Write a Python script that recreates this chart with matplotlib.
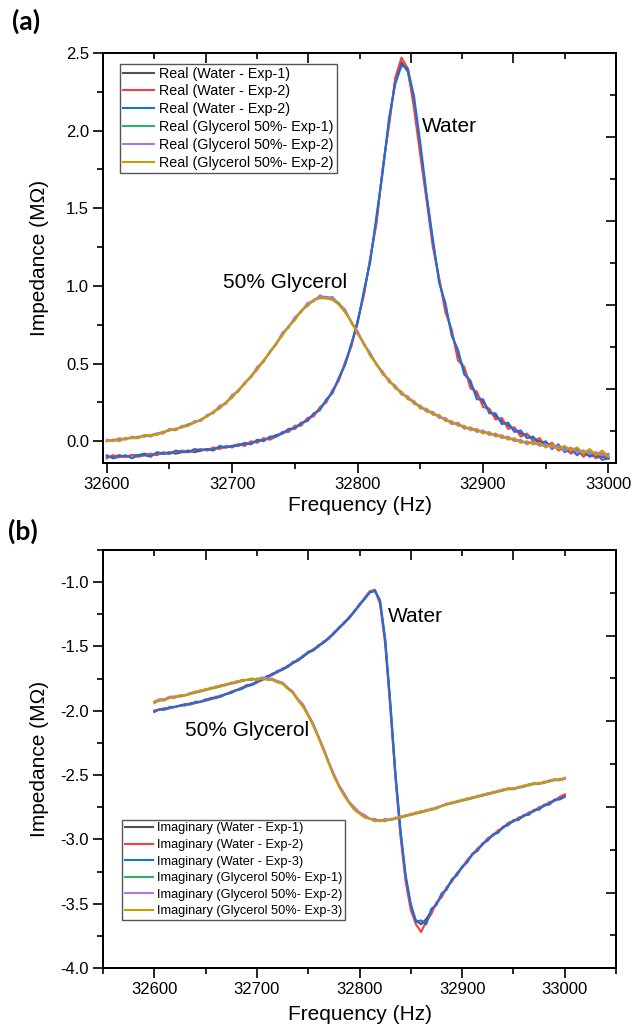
import numpy as np
import matplotlib
matplotlib.use("Agg")
import matplotlib.pyplot as plt
from matplotlib.ticker import MultipleLocator, FormatStrFormatter, NullFormatter

plt.rcParams['font.family'] = ['Liberation Sans', 'DejaVu Sans']
plt.rcParams['axes.unicode_minus'] = False

# ---------------- data ----------------
freq = np.arange(32600, 33001, 5)  # Hz, 81 samples

real_water_1 = [
    -0.10, -0.10, -0.09, -0.10, -0.09, -0.09, -0.08, -0.09, -0.08, -0.08,
    -0.07, -0.08, -0.07, -0.06, -0.07, -0.06, -0.05, -0.05, -0.04, -0.04,
    -0.03, -0.02, -0.02, -0.01, 0.00, 0.01, 0.02, 0.04, 0.05, 0.07,
    0.09, 0.11, 0.14, 0.17, 0.21, 0.26, 0.32, 0.40, 0.50, 0.62,
    0.77, 0.95, 1.17, 1.42, 1.75, 2.05, 2.32, 2.44, 2.38, 2.18,
    1.88, 1.57, 1.28, 1.04, 0.86, 0.70, 0.56, 0.46, 0.37, 0.30,
    0.25, 0.20, 0.16, 0.13, 0.10, 0.08, 0.05, 0.04, 0.02, 0.00,
    -0.01, -0.03, -0.04, -0.05, -0.06, -0.07, -0.08, -0.09, -0.10, -0.10,
    -0.11]
real_water_2 = [
    -0.11, -0.09, -0.10, -0.10, -0.09, -0.10, -0.09, -0.08, -0.09, -0.07,
    -0.08, -0.07, -0.06, -0.07, -0.06, -0.05, -0.06, -0.04, -0.05, -0.03,
    -0.04, -0.02, -0.03, 0.00, -0.01, 0.02, 0.01, 0.03, 0.06, 0.06,
    0.10, 0.10, 0.15, 0.16, 0.22, 0.25, 0.33, 0.39, 0.51, 0.61,
    0.78, 0.94, 1.18, 1.40, 1.76, 2.03, 2.34, 2.47, 2.40, 2.14,
    1.84, 1.55, 1.25, 1.05, 0.83, 0.72, 0.52, 0.48, 0.34, 0.32,
    0.22, 0.21, 0.14, 0.15, 0.08, 0.09, 0.03, 0.05, 0.00, 0.02,
    -0.03, -0.01, -0.06, -0.04, -0.08, -0.05, -0.10, -0.07, -0.11, -0.09,
    -0.11]
real_water_3 = [
    -0.09, -0.11, -0.10, -0.09, -0.11, -0.09, -0.09, -0.10, -0.07, -0.08,
    -0.08, -0.06, -0.07, -0.07, -0.05, -0.06, -0.05, -0.06, -0.03, -0.04,
    -0.03, -0.03, -0.01, -0.02, 0.01, 0.00, 0.03, 0.03, 0.05, 0.08,
    0.08, 0.12, 0.13, 0.18, 0.20, 0.27, 0.31, 0.41, 0.49, 0.63,
    0.76, 0.97, 1.15, 1.45, 1.73, 2.08, 2.30, 2.42, 2.40, 2.22,
    1.92, 1.59, 1.30, 1.02, 0.89, 0.68, 0.59, 0.43, 0.39, 0.27,
    0.27, 0.18, 0.18, 0.11, 0.12, 0.06, 0.07, 0.02, 0.03, -0.02,
    0.00, -0.05, -0.02, -0.07, -0.05, -0.09, -0.06, -0.10, -0.08, -0.12,
    -0.11]
real_gly_1 = [
    0.00, 0.01, 0.01, 0.02, 0.02, 0.03, 0.03, 0.04, 0.05, 0.06,
    0.07, 0.08, 0.09, 0.11, 0.12, 0.14, 0.16, 0.19, 0.22, 0.25,
    0.29, 0.33, 0.37, 0.42, 0.47, 0.52, 0.57, 0.63, 0.69, 0.74,
    0.79, 0.84, 0.88, 0.91, 0.93, 0.93, 0.92, 0.89, 0.84, 0.77,
    0.70, 0.63, 0.56, 0.50, 0.44, 0.39, 0.35, 0.31, 0.28, 0.25,
    0.22, 0.20, 0.18, 0.16, 0.14, 0.12, 0.11, 0.09, 0.08, 0.07,
    0.06, 0.05, 0.04, 0.03, 0.02, 0.01, 0.00, -0.01, -0.01, -0.02,
    -0.03, -0.03, -0.04, -0.05, -0.05, -0.06, -0.07, -0.07, -0.08, -0.08,
    -0.09]
real_gly_2 = [
    0.01, 0.00, 0.02, 0.01, 0.03, 0.02, 0.04, 0.03, 0.05, 0.05,
    0.08, 0.07, 0.10, 0.10, 0.13, 0.13, 0.17, 0.18, 0.23, 0.24,
    0.30, 0.32, 0.38, 0.41, 0.48, 0.51, 0.58, 0.62, 0.70, 0.73,
    0.80, 0.83, 0.89, 0.90, 0.94, 0.92, 0.93, 0.88, 0.85, 0.76,
    0.71, 0.62, 0.57, 0.49, 0.45, 0.38, 0.36, 0.30, 0.29, 0.24,
    0.23, 0.19, 0.19, 0.15, 0.15, 0.11, 0.12, 0.08, 0.09, 0.06,
    0.07, 0.04, 0.05, 0.02, 0.03, 0.00, 0.01, -0.02, 0.00, -0.03,
    -0.02, -0.04, -0.03, -0.06, -0.04, -0.07, -0.06, -0.08, -0.07, -0.09,
    -0.08]
real_gly_3 = [
    0.00, 0.01, 0.00, 0.02, 0.02, 0.02, 0.04, 0.04, 0.04, 0.06,
    0.07, 0.08, 0.09, 0.10, 0.12, 0.14, 0.16, 0.19, 0.21, 0.25,
    0.28, 0.33, 0.37, 0.42, 0.46, 0.52, 0.57, 0.63, 0.68, 0.74,
    0.78, 0.84, 0.87, 0.91, 0.92, 0.92, 0.91, 0.88, 0.83, 0.77,
    0.69, 0.63, 0.55, 0.50, 0.43, 0.40, 0.34, 0.32, 0.27, 0.26,
    0.21, 0.21, 0.17, 0.17, 0.13, 0.13, 0.10, 0.10, 0.07, 0.08,
    0.05, 0.06, 0.03, 0.04, 0.01, 0.02, -0.01, 0.00, -0.02, -0.01,
    -0.04, -0.02, -0.05, -0.03, -0.06, -0.04, -0.08, -0.05, -0.09, -0.06,
    -0.10]

imag_water_1 = [
    -2.00, -1.99, -1.99, -1.98, -1.97, -1.96, -1.95, -1.95, -1.94, -1.93,
    -1.92, -1.91, -1.90, -1.89, -1.87, -1.86, -1.84, -1.83, -1.81, -1.80,
    -1.78, -1.76, -1.74, -1.72, -1.70, -1.68, -1.66, -1.63, -1.61, -1.58,
    -1.55, -1.53, -1.50, -1.47, -1.44, -1.40, -1.36, -1.32, -1.28, -1.23,
    -1.18, -1.13, -1.08, -1.06, -1.15, -1.45, -1.95, -2.50, -2.95, -3.30,
    -3.52, -3.63, -3.66, -3.62, -3.56, -3.50, -3.44, -3.38, -3.32, -3.27,
    -3.22, -3.17, -3.12, -3.08, -3.04, -3.00, -2.97, -2.94, -2.91, -2.88,
    -2.86, -2.84, -2.82, -2.80, -2.78, -2.76, -2.74, -2.72, -2.70, -2.68,
    -2.66]
imag_water_2 = [
    -2.00, -1.99, -1.98, -1.98, -1.97, -1.96, -1.96, -1.94, -1.94, -1.93,
    -1.91, -1.91, -1.89, -1.89, -1.87, -1.85, -1.84, -1.82, -1.81, -1.79,
    -1.78, -1.75, -1.74, -1.71, -1.70, -1.67, -1.66, -1.62, -1.61, -1.57,
    -1.55, -1.52, -1.50, -1.46, -1.44, -1.39, -1.36, -1.31, -1.28, -1.22,
    -1.18, -1.12, -1.07, -1.06, -1.17, -1.48, -1.98, -2.52, -2.98, -3.33,
    -3.55, -3.66, -3.72, -3.64, -3.58, -3.49, -3.45, -3.37, -3.33, -3.26,
    -3.22, -3.16, -3.12, -3.07, -3.04, -2.99, -2.97, -2.93, -2.91, -2.87,
    -2.86, -2.83, -2.82, -2.79, -2.78, -2.75, -2.74, -2.71, -2.70, -2.67,
    -2.65]
imag_water_3 = [
    -2.01, -1.99, -1.99, -1.97, -1.97, -1.96, -1.95, -1.95, -1.93, -1.93,
    -1.92, -1.90, -1.90, -1.88, -1.87, -1.86, -1.84, -1.83, -1.80, -1.80,
    -1.77, -1.76, -1.73, -1.72, -1.69, -1.68, -1.65, -1.63, -1.60, -1.58,
    -1.54, -1.53, -1.49, -1.47, -1.43, -1.40, -1.35, -1.32, -1.27, -1.23,
    -1.17, -1.13, -1.08, -1.07, -1.14, -1.44, -1.93, -2.48, -2.93, -3.28,
    -3.50, -3.64, -3.63, -3.66, -3.54, -3.51, -3.42, -3.39, -3.31, -3.28,
    -3.21, -3.18, -3.11, -3.09, -3.03, -3.01, -2.96, -2.95, -2.90, -2.89,
    -2.85, -2.85, -2.81, -2.81, -2.77, -2.77, -2.73, -2.73, -2.69, -2.69,
    -2.67]
imag_gly_1 = [
    -1.93, -1.92, -1.91, -1.90, -1.89, -1.89, -1.88, -1.87, -1.86, -1.85,
    -1.84, -1.83, -1.82, -1.81, -1.80, -1.79, -1.78, -1.77, -1.76, -1.76,
    -1.75, -1.75, -1.75, -1.76, -1.77, -1.79, -1.82, -1.86, -1.91, -1.96,
    -2.03, -2.11, -2.20, -2.30, -2.40, -2.50, -2.58, -2.65, -2.71, -2.76,
    -2.79, -2.82, -2.84, -2.85, -2.85, -2.85, -2.85, -2.84, -2.83, -2.82,
    -2.81, -2.80, -2.79, -2.78, -2.77, -2.76, -2.74, -2.73, -2.72, -2.71,
    -2.70, -2.69, -2.68, -2.67, -2.66, -2.65, -2.64, -2.63, -2.62, -2.61,
    -2.61, -2.60, -2.59, -2.58, -2.57, -2.57, -2.56, -2.55, -2.54, -2.54,
    -2.53]
imag_gly_2 = [
    -1.93, -1.91, -1.91, -1.89, -1.89, -1.88, -1.88, -1.86, -1.86, -1.84,
    -1.84, -1.82, -1.82, -1.80, -1.80, -1.78, -1.78, -1.76, -1.76, -1.75,
    -1.76, -1.74, -1.75, -1.75, -1.77, -1.78, -1.82, -1.85, -1.91, -1.95,
    -2.03, -2.10, -2.20, -2.29, -2.40, -2.49, -2.58, -2.64, -2.71, -2.75,
    -2.79, -2.81, -2.84, -2.84, -2.86, -2.84, -2.85, -2.83, -2.83, -2.81,
    -2.81, -2.79, -2.79, -2.77, -2.77, -2.75, -2.74, -2.72, -2.72, -2.70,
    -2.70, -2.68, -2.68, -2.66, -2.66, -2.64, -2.64, -2.62, -2.62, -2.60,
    -2.61, -2.59, -2.59, -2.57, -2.57, -2.56, -2.56, -2.54, -2.54, -2.53,
    -2.53]
imag_gly_3 = [
    -1.94, -1.92, -1.92, -1.90, -1.90, -1.88, -1.88, -1.87, -1.85, -1.85,
    -1.83, -1.83, -1.81, -1.81, -1.79, -1.79, -1.77, -1.77, -1.76, -1.75,
    -1.76, -1.75, -1.76, -1.76, -1.78, -1.79, -1.83, -1.86, -1.92, -1.97,
    -2.04, -2.12, -2.21, -2.31, -2.41, -2.51, -2.59, -2.66, -2.72, -2.77,
    -2.80, -2.83, -2.84, -2.86, -2.85, -2.86, -2.84, -2.84, -2.82, -2.82,
    -2.80, -2.80, -2.78, -2.78, -2.76, -2.76, -2.74, -2.73, -2.71, -2.71,
    -2.69, -2.69, -2.67, -2.67, -2.65, -2.65, -2.63, -2.63, -2.61, -2.61,
    -2.60, -2.60, -2.58, -2.58, -2.56, -2.57, -2.55, -2.55, -2.53, -2.54,
    -2.52]

real_labels = ["Real (Water - Exp-1)", "Real (Water - Exp-2)", "Real (Water - Exp-2)",
               "Real (Glycerol 50%- Exp-1)", "Real (Glycerol 50%- Exp-2)",
               "Real (Glycerol 50%- Exp-2)"]
imag_labels = ["Imaginary (Water - Exp-1)", "Imaginary (Water - Exp-2)",
               "Imaginary (Water - Exp-3)", "Imaginary (Glycerol 50%- Exp-1)",
               "Imaginary (Glycerol 50%- Exp-2)", "Imaginary (Glycerol 50%- Exp-3)"]
colors = ["#515151", "#F14040", "#1A6FDF", "#37AD6B", "#B177DE", "#CC9900"]

real_series = [real_water_1, real_water_2, real_water_3, real_gly_1, real_gly_2, real_gly_3]
imag_series = [imag_water_1, imag_water_2, imag_water_3, imag_gly_1, imag_gly_2, imag_gly_3]

# ---------------- figure ----------------
W, H = 635, 1032
fig = plt.figure(figsize=(W / 100, H / 100), dpi=100)

def px_axes(l, t, r, b):
    return fig.add_axes([l / W, 1 - b / H, (r - l) / W, (b - t) / H])

ax1 = px_axes(103, 53, 616, 463)
ax2 = px_axes(103, 550, 616, 968)

def style(ax, xlim, ylim, legend_kw, labels, series, lfs, lsp, xlpad):
    for s, c, lab in zip(series, colors, labels):
        ax.plot(freq, s, color=c, lw=1.5, label=lab)
    ax.set_xlim(*xlim)
    ax.set_ylim(*ylim)
    ax.xaxis.set_major_locator(MultipleLocator(100))
    ax.xaxis.set_minor_locator(MultipleLocator(50))
    ax.yaxis.set_major_locator(MultipleLocator(0.5))
    ax.yaxis.set_minor_locator(MultipleLocator(0.25))
    ax.yaxis.set_major_formatter(FormatStrFormatter('%.1f'))
    ax.tick_params(which='major', direction='out', length=7, width=1.2,
                   labelsize=12, pad=3, top=False, right=False)
    ax.tick_params(which='minor', direction='out', length=4, width=1.2,
                   top=False, right=False)
    for sp in ax.spines.values():
        sp.set_linewidth(1.3)
    ax.set_xlabel("Frequency (Hz)", fontsize=15, labelpad=xlpad)
    ax.set_ylabel("Impedance (MΩ)", fontsize=15)
    ax.yaxis.set_label_coords(-0.105, 0.5)
    leg = ax.legend(fontsize=lfs, frameon=True, fancybox=False, framealpha=1,
                    edgecolor='#555555', handlelength=2.2, handletextpad=0.35,
                    borderpad=0.2, labelspacing=lsp, borderaxespad=0,
                    **legend_kw)
    leg.get_frame().set_linewidth(1.0)
    # top decorative ticks
    axt = ax.twiny()
    axt.set_xlim(0, 10)
    axt.xaxis.set_major_locator(MultipleLocator(2))
    axt.xaxis.set_minor_locator(MultipleLocator(1))
    axt.xaxis.set_major_formatter(NullFormatter())
    axt.tick_params(which='major', direction='in', length=7, width=1.2)
    axt.tick_params(which='minor', direction='in', length=4, width=1.2)
    # right decorative ticks
    axr = ax.twinx()
    axr.set_ylim(0.24, 10)
    axr.yaxis.set_major_locator(MultipleLocator(2))
    axr.yaxis.set_minor_locator(MultipleLocator(1))
    axr.yaxis.set_major_formatter(NullFormatter())
    axr.tick_params(which='major', direction='in', length=7, width=1.2)
    axr.tick_params(which='minor', direction='in', length=4, width=1.2)
    for a in (axt, axr):
        for sp in a.spines.values():
            sp.set_linewidth(1.3)

style(ax1, (32597, 33006), (-0.14, 2.5),
      dict(loc='upper left', bbox_to_anchor=(0.033, 0.974)),
      real_labels, real_series, 10.3, 0.27, 3)
style(ax2, (32550, 33050), (-4.0, -0.75),
      dict(loc='lower left', bbox_to_anchor=(0.037, 0.115)),
      imag_labels, imag_series, 9.2, 0.36, 6)

ax1.text(32851, 1.99, "Water", fontsize=15)
ax1.text(32693, 0.99, "50% Glycerol", fontsize=15)
ax2.text(32828, -1.31, "Water", fontsize=15)
ax2.text(32630, -2.2, "50% Glycerol", fontsize=15)

fig.text(12 / W, 1 - 21 / H, "(a)", fontsize=19, fontweight='bold',
         family=['Lato', 'DejaVu Sans'], va='center', ha='left')
fig.text(8 / W, 1 - 531 / H, "(b)", fontsize=19, fontweight='bold',
         family=['Lato', 'DejaVu Sans'], va='center', ha='left')

fig.savefig("out.png", dpi=100)
